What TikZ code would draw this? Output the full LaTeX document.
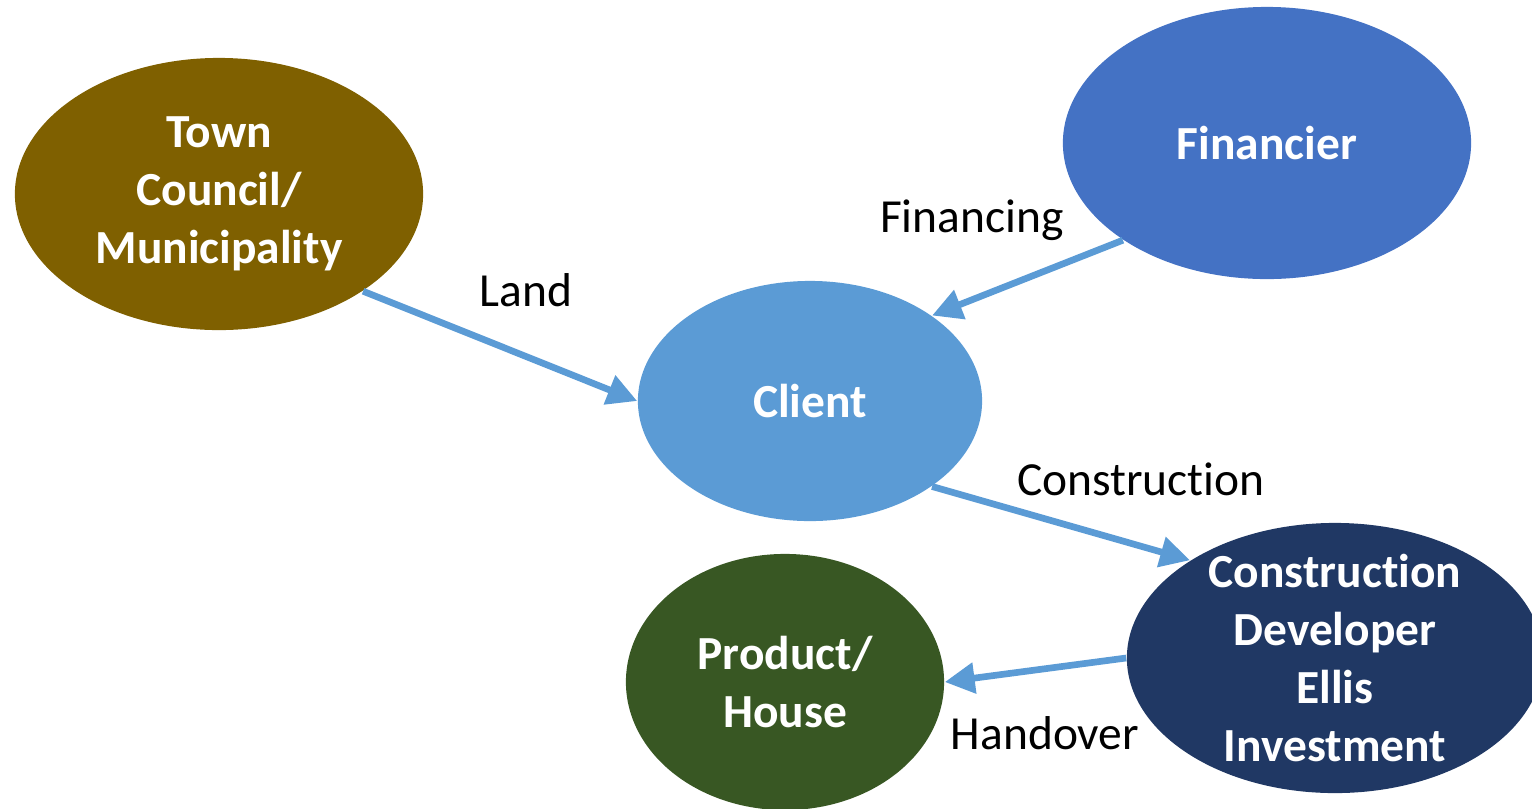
\documentclass[tikz,border=0pt]{standalone}
\usepackage{fontspec}
\setmainfont{Carlito}[Ligatures=NoCommon]
\usetikzlibrary{shapes.geometric,arrows.meta}
\definecolor{councilbrown}{HTML}{7F6000}
\definecolor{financeblue}{HTML}{4472C4}
\definecolor{clientblue}{HTML}{5B9BD5}
\definecolor{developernavy}{HTML}{203864}
\definecolor{housegreen}{HTML}{385723}
\tikzstyle{party}=[ellipse, inner sep=0pt, text=white, align=center, font=\fontsize{13.5}{16.5}\selectfont\bfseries]
\tikzstyle{flow}=[draw=clientblue, line width=1.9pt, -{Triangle[length=8.5pt,width=8.5pt]}]
\tikzstyle{flowlabel}=[font=\fontsize{13.5}{16.5}\selectfont]

\begin{document}
\begin{tikzpicture}[x=0.01cm,y=-0.01cm]
\useasboundingbox (0,0) rectangle (1532,808);
\begin{scope}
\clip (0,0) rectangle (1532,808);
\draw (219,194) node[party, fill=councilbrown, minimum width=4.08cm, minimum height=2.72cm] (council) {Town\\Council/\\Municipality};
\draw (1267,143) node[party, fill=financeblue, minimum width=4.08cm, minimum height=2.72cm] (financier) {Financier};
\draw (810,401) node[party, fill=clientblue, minimum width=3.44cm, minimum height=2.40cm] (client) {Client};
\draw (1335,658) node[party, fill=developernavy, inner ysep=-0.4cm, minimum width=4.16cm, minimum height=2.70cm] (developer) {Construction\\Developer\\Ellis\\Investment};
\draw (785,682) node[party, fill=housegreen, minimum width=3.18cm, minimum height=2.56cm] (house) {Product/\\House};
\end{scope}

\draw[flow] (council.-34) -- (client.west);
\draw[flow] (financier.-146) -- (client.35);
\draw[flow] (client.-35) -- (developer.146);
\draw[flow] (developer.west) -- (house.east);

\draw (526,290) node[flowlabel] (landlabel) {Land};
\draw (972,220) node[flowlabel] (financinglabel) {Financing};
\draw (1141,479) node[flowlabel] (constructionlabel) {Construction};
\draw (1045,733) node[flowlabel] (handoverlabel) {Handover};
\end{tikzpicture}
\end{document}
